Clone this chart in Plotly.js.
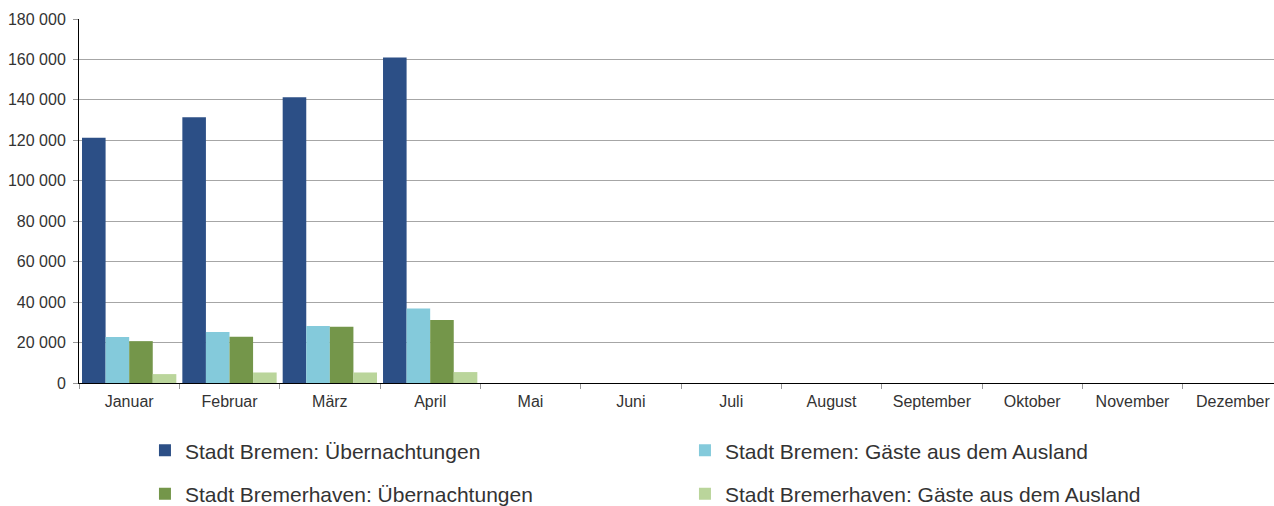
<!DOCTYPE html>
<html>
<head>
<meta charset="utf-8">
<script src="https://cdn.plot.ly/plotly-3.0.1.min.js"></script>
<style>html,body{margin:0;padding:0;background:#fff;}#chart{width:1274px;height:506px;}</style>
</head>
<body>
<div id="chart"></div>
<script>
const months = ["Januar","Februar","März","April","Mai","Juni","Juli","August","September","Oktober","November","Dezember"];
const bremenUebernachtungen = [121300, 131400, 141300, 160900, null, null, null, null, null, null, null, null];
const bremenAusland = [22700, 25200, 28200, 36900, null, null, null, null, null, null, null, null];
const bremerhavenUebernachtungen = [20700, 22900, 27800, 31100, null, null, null, null, null, null, null, null];
const bremerhavenAusland = [4400, 5200, 5200, 5400, null, null, null, null, null, null, null, null];
const seriesNames = ["Stadt Bremen: Übernachtungen","Stadt Bremen: Gäste aus dem Ausland","Stadt Bremerhaven: Übernachtungen","Stadt Bremerhaven: Gäste aus dem Ausland"];
const yTicks = [0,20000,40000,60000,80000,100000,120000,140000,160000,180000];

const colors = ["#2C4F86","#84CADB","#74964A","#BAD59B"];
const values = [bremenUebernachtungen, bremenAusland, bremerhavenUebernachtungen, bremerhavenAusland];
const legends = ["legend","legend","legend2","legend2"];

const traces = values.map((v,i)=>({
  type:"bar", x:months, y:v, name:seriesNames[i],
  marker:{color:colors[i], line:{width:0}},
  legend:legends[i], hoverinfo:"skip"
}));

const font = "Liberation Sans, Arial, sans-serif";
const legendCommon = {
  orientation:"h", xanchor:"left", yanchor:"middle",
  entrywidth:495, entrywidthmode:"pixels",
  font:{size:21, color:"#333333", family:font}, bgcolor:"rgba(0,0,0,0)",
  traceorder:"normal"
};
const layout = {
  width:1274, height:506,
  margin:{l:79, r:0, t:19, b:123, autoexpand:false},
  paper_bgcolor:"#fff", plot_bgcolor:"#fff",
  separators:", ",
  barmode:"group", bargap:0.06, bargroupgap:0,
  font:{family:font, color:"#333333"},
  xaxis:{
    type:"category", range:[-0.5, 11.41],
    showline:true, linecolor:"#000", linewidth:1,
    ticks:"outside", tickson:"boundaries", ticklen:5, tickcolor:"#999", tickwidth:1,
    tickfont:{size:16, color:"#333333", family:font},
    ticklabelstandoff:4,
    showgrid:false, fixedrange:true
  },
  yaxis:{
    range:[0,180000], tickvals:yTicks, tickformat:",.0f",
    showline:true, linecolor:"#000", linewidth:1,
    ticks:"outside", ticklen:5, tickcolor:"#999",
    showgrid:true, gridcolor:"#A6A6A6", gridwidth:1,
    zeroline:false,
    tickfont:{size:16, color:"#333333", family:font},
    ticklabelstandoff:4, fixedrange:true
  },
  legend:Object.assign({}, legendCommon, {x:0.0552, y:-0.186}),
  legend2:Object.assign({}, legendCommon, {x:0.0552, y:-0.305}),
  showlegend:true
};

Plotly.newPlot("chart", traces, layout, {displayModeBar:false, staticPlot:true});
</script>
</body>
</html>
